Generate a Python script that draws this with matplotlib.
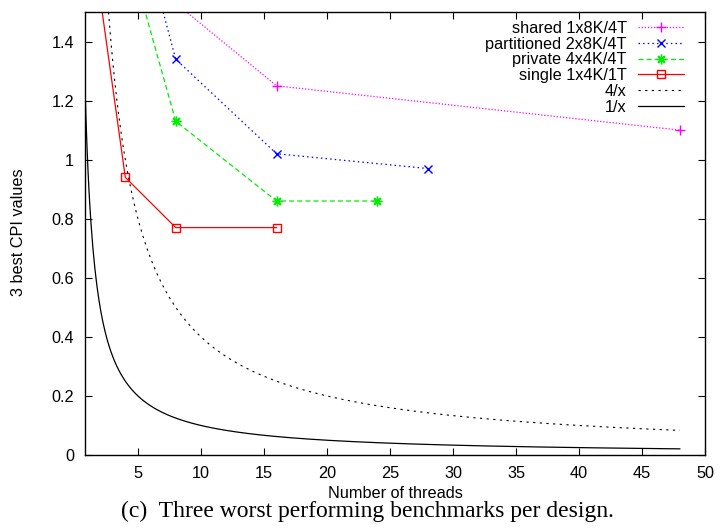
import matplotlib.pyplot as plt
import numpy as np
from matplotlib.ticker import FormatStrFormatter

# data (first points lie above the clipped y-range)
shared_x = [4, 16, 48]
shared_y = [1.67, 1.25, 1.10]
part_x = [4, 8, 16, 28]
part_y = [1.98, 1.34, 1.02, 0.97]
priv_x = [4, 8, 16, 24]
priv_y = [1.74, 1.13, 0.86, 0.86]
single_x = [2, 4, 8, 16]
single_y = [1.55, 0.94, 0.77, 0.77]

xf = np.linspace(0.8, 48, 600)

plt.rcParams['font.family'] = ['Liberation Sans', 'DejaVu Sans']
fs = 11.7

fig = plt.figure(figsize=(7.2, 5.31), dpi=100)
ax = fig.add_axes([85/720, 76/531, 620/720, 443/531])

ax.plot(shared_x, shared_y, color='#ff00ff', lw=0.9, ls=(0, (1, 1.5)),
        marker='+', ms=7, mew=1, label='shared 1x8K/4T')
ax.plot(part_x, part_y, color='#0000ff', lw=0.9, ls=(0, (1.2, 2.5)),
        marker='x', ms=6, mew=1, label='partitioned 2x8K/4T')
ax.plot(priv_x, priv_y, color='#00ee00', lw=0.9, ls=(0, (4, 2.5)),
        marker=(8, 2, 0), ms=7, mew=1, label='private 4x4K/4T')
ax.plot(single_x, single_y, color='#ff0000', lw=0.9, ls='-',
        marker='s', ms=6, mfc='none', mew=1, label='single 1x4K/1T')
ax.plot(xf, 4/xf, color='black', lw=0.8, ls=(0, (2, 4)), label='4/x')
ax.plot(xf, 1/xf, color='black', lw=0.9, ls='-', label='1/x')

ax.set_xlim(0.8, 50)
ax.set_ylim(0, 1.5)
ax.set_xticks(np.arange(5, 51, 5))
ax.set_yticks(np.arange(0, 1.41, 0.2))
ax.yaxis.set_major_formatter(FormatStrFormatter('%g'))
ax.tick_params(direction='in', top=True, right=True, length=5, width=0.8,
               labelsize=fs, pad=8)
for s in ax.spines.values():
    s.set_linewidth(1)

leg = ax.legend(loc='upper right', frameon=False, markerfirst=False,
                fontsize=fs, handlelength=2.8, handletextpad=0.7,
                labelspacing=0.05, borderaxespad=0.0, numpoints=1,
                bbox_to_anchor=(0.976, 0.995))

fig.text(395/720, 1 - 493/531, 'Number of threads', ha='center', va='center',
         fontsize=fs)
fig.text(19/720, 1 - 232/531, '3 best CPI values', ha='center', va='center',
         rotation=90, fontsize=fs)
fig.text(367/720, 1 - 511/531, '(c)  Three worst performing benchmarks per design.',
         ha='center', va='center', fontsize=17, family='Liberation Serif')

fig.savefig('out.png', dpi=100)
